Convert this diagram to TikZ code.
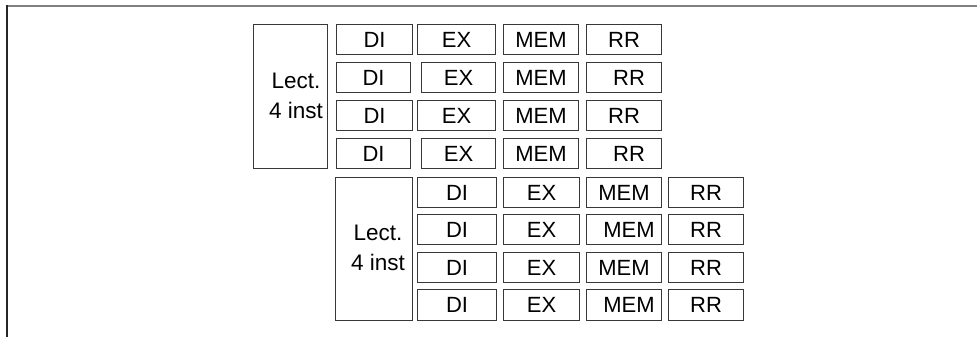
\documentclass[tikz,border=0pt]{standalone}
\usepackage{fontspec}
\setmainfont{Liberation Sans}
\begin{document}
\begin{tikzpicture}[x=1pt,y=-1pt,
  cell/.style={draw=black!78, line width=1.1pt, minimum height=30pt, inner sep=0pt,
    font=\fontsize{22}{26}\selectfont, anchor=north west},
  lectbox/.style={draw=black!78, line width=1.1pt, inner sep=0pt, anchor=north west},
  lecttext/.style={align=center, font=\fontsize{22.5}{29.5}\selectfont, inner sep=0pt},
  frametop/.style={draw=black!50, line width=2pt},
  frameleft/.style={draw=black!85, line width=2pt}]
\useasboundingbox (0,0) rectangle (977,337);
% frame
\coordinate (fa) at (6,6);
\coordinate (fb) at (977,6);
\coordinate (fc) at (7,5);
\coordinate (fd) at (7,337);
\draw[frametop] (fa) -- (fb);
\draw[frameleft] (fc) -- (fd);
% first group
\node[lectbox, minimum width=74pt, minimum height=144pt] (L1) at (253,24) {};
\node[lecttext] (L1t) at (296,96) {Lect.\\4 inst};
% row 1
\node[cell, minimum width=76pt] (a1) at (336,24) {DI};
\node[cell, minimum width=78pt] (b1) at (417,24) {EX};
\node[cell, minimum width=75pt] (c1) at (503,24) {MEM};
\node[cell, minimum width=75pt] (d1) at (586,24) {RR};
% row 2
\node[cell, minimum width=74pt] (a2) at (336,62) {DI};
\node[cell, minimum width=74pt] (b2) at (421,62) {EX};
\node[cell, minimum width=75pt] (c2) at (503,62) {MEM};
\node[cell, minimum width=75pt] (d2) at (586,62) {\hspace*{10pt}RR};
% row 3
\node[cell, minimum width=76pt] (a3) at (336,100) {DI};
\node[cell, minimum width=78pt] (b3) at (417,100) {EX};
\node[cell, minimum width=75pt] (c3) at (503,100) {MEM};
\node[cell, minimum width=75pt] (d3) at (586,100) {RR};
% row 4
\node[cell, minimum width=74pt] (a4) at (336,138) {DI};
\node[cell, minimum width=74pt] (b4) at (421,138) {EX};
\node[cell, minimum width=75pt] (c4) at (503,138) {MEM};
\node[cell, minimum width=75pt] (d4) at (586,138) {\hspace*{10pt}RR};
% second group
\node[lectbox, minimum width=77pt, minimum height=143pt] (L2) at (335,177) {};
\node[lecttext] (L2t) at (378,248) {Lect.\\4 inst};
% row 5
\node[cell, minimum width=79pt] (a5) at (417,177) {DI};
\node[cell, minimum width=76pt] (b5) at (503,177) {EX};
\node[cell, minimum width=75pt] (c5) at (586,177) {MEM};
\node[cell, minimum width=75pt] (d5) at (668,177) {RR};
% row 6
\node[cell, minimum width=79pt] (a6) at (417,214) {DI};
\node[cell, minimum width=76pt] (b6) at (503,214) {EX};
\node[cell, minimum width=75pt] (c6) at (586,214) {\hspace*{10pt}MEM};
\node[cell, minimum width=75pt] (d6) at (668,214) {RR};
% row 7
\node[cell, minimum width=79pt] (a7) at (417,252) {DI};
\node[cell, minimum width=76pt] (b7) at (503,252) {EX};
\node[cell, minimum width=75pt] (c7) at (586,252) {MEM};
\node[cell, minimum width=75pt] (d7) at (668,252) {RR};
% row 8
\node[cell, minimum width=79pt, minimum height=31pt] (a8) at (417,289) {DI};
\node[cell, minimum width=76pt, minimum height=31pt] (b8) at (503,289) {EX};
\node[cell, minimum width=75pt, minimum height=31pt] (c8) at (586,289) {\hspace*{10pt}MEM};
\node[cell, minimum width=75pt, minimum height=31pt] (d8) at (668,289) {RR};
\end{tikzpicture}
\end{document}
